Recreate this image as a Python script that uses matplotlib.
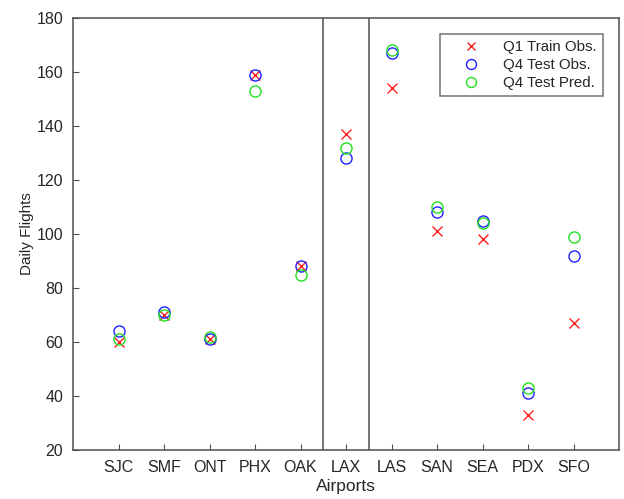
import matplotlib
matplotlib.use("Agg")
import matplotlib.pyplot as plt

# ── Data ──────────────────────────────────────────────────────────────────────
airports = ["SJC", "SMF", "ONT", "PHX", "OAK", "LAX",
            "LAS", "SAN", "SEA", "PDX", "SFO"]
q1_train_obs = [60, 70, 61, 159, 88, 137, 154, 101, 98, 33, 67]
q4_test_obs  = [64, 71, 61, 159, 88, 128, 167, 108, 105, 41, 92]
q4_test_pred = [61, 70, 62, 153, 85, 132, 168, 110, 104, 43, 99]
group_splits = [5.5, 6.5]

FRAME = "#505050"
TEXT = "#262626"

plt.rcParams.update({
    "font.family": ["Liberation Sans", "DejaVu Sans"],
    "axes.edgecolor": FRAME,
    "axes.linewidth": 1.1,
    "text.color": TEXT,
})

fig = plt.figure(figsize=(6.24, 4.99), dpi=100)
ax = fig.add_axes([0.117, 0.098, 0.875, 0.866])

x = list(range(1, len(airports) + 1))
ax.plot(x, q1_train_obs, linestyle="none", marker="x", color="#ff2020",
        markersize=7, markeredgewidth=1.0, label="Q1 Train Obs.")
ax.plot(x, q4_test_obs, linestyle="none", marker="o", markerfacecolor="none",
        markeredgecolor="#2020ff", markersize=8, markeredgewidth=1.0,
        label="Q4 Test Obs.")
ax.plot(x, q4_test_pred, linestyle="none", marker="o", markerfacecolor="none",
        markeredgecolor="#20e020", markersize=8, markeredgewidth=1.0,
        label="Q4 Test Pred.")

# group separators
for xs in group_splits:
    ax.axvline(xs, color=FRAME, linewidth=1.1)

ax.set_xlim(0, 12)
ax.set_ylim(20, 180)
ax.set_xticks(x)
ax.set_xticklabels(airports)
ax.set_yticks(range(20, 181, 20))
ax.tick_params(direction="in", length=4, labelsize=11.5, colors=FRAME,
               labelcolor=TEXT, pad=7)
ax.set_xlabel("Airports", fontsize=12.5, labelpad=3, color=TEXT)
ax.set_ylabel("Daily Flights", fontsize=11, labelpad=2, color=TEXT)

leg = ax.legend(loc="upper right", fontsize=10.8, frameon=True, fancybox=False,
                edgecolor=FRAME, borderaxespad=1.1, handlelength=3.3,
                handletextpad=0.5, labelspacing=0.25, borderpad=0.4,
                markerscale=0.9)
leg.get_frame().set_linewidth(1.1)

fig.savefig("out.png", dpi=100)
